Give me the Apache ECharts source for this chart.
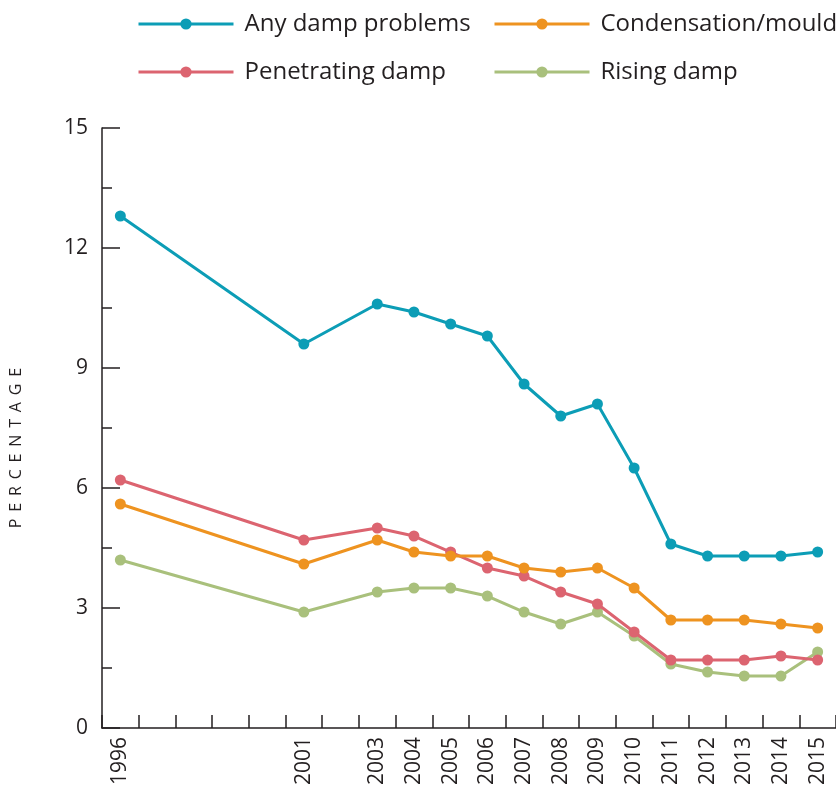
<!DOCTYPE html>
<html>
<head>
<meta charset="utf-8">
<script src="https://cdn.jsdelivr.net/npm/echarts@6/dist/echarts.min.js"></script>
<style>html,body{margin:0;padding:0;background:#fff}#c{width:836px;height:789px}</style>
</head>
<body>
<div id="c"></div>
<script>
const years = [1996, 2001, 2003, 2004, 2005, 2006, 2007, 2008, 2009, 2010, 2011, 2012, 2013, 2014, 2015];
const anyDamp = [12.8, 9.6, 10.6, 10.4, 10.1, 9.8, 8.6, 7.8, 8.1, 6.5, 4.6, 4.3, 4.3, 4.3, 4.4];
const condensation = [5.6, 4.1, 4.7, 4.4, 4.3, 4.3, 4.0, 3.9, 4.0, 3.5, 2.7, 2.7, 2.7, 2.6, 2.5];
const penetrating = [6.2, 4.7, 5.0, 4.8, 4.4, 4.0, 3.8, 3.4, 3.1, 2.4, 1.7, 1.7, 1.7, 1.8, 1.7];
const rising = [4.2, 2.9, 3.4, 3.5, 3.5, 3.3, 2.9, 2.6, 2.9, 2.3, 1.6, 1.4, 1.3, 1.3, 1.9];
const seriesNames = ['Any damp problems', 'Condensation/mould', 'Penetrating damp', 'Rising damp'];
const yTicks = [0, 3, 6, 9, 12, 15];
const yName = 'PERCENTAGE';

const colors = ['#0c9db6', '#ee9320', '#dc6470', '#a9c07c'];
const allData = [anyDamp, condensation, penetrating, rising];
const tickPositions = [];
for (let y = 1995.5; y <= 2015.5; y += 1) tickPositions.push(y);

const font = '"Open Sans", "Noto Sans", sans-serif';
const txt = '#231f20';

const legendCommon = {
  orient: 'vertical', top: 12, padding: 0,
  itemWidth: 95, itemHeight: 14, itemGap: 24,
  lineStyle: { width: 3 },
  textStyle: { fontFamily: font, fontSize: 24, color: txt, padding: [0, 0, 0, 6] }
};

const chart = echarts.init(document.getElementById('c'));
chart.setOption({
  animation: false,
  color: colors,
  textStyle: { fontFamily: font, color: txt },
  grid: { left: 101, top: 128, right: -5.5, bottom: 61, containLabel: false },
  legend: [
    Object.assign({}, legendCommon, { data: [seriesNames[0], seriesNames[2]], left: 137 }),
    Object.assign({}, legendCommon, { data: [seriesNames[1], seriesNames[3]], left: 493 })
  ],
  xAxis: {
    type: 'value', min: 1995.5, max: 2015.5,
    axisLine: { show: true, lineStyle: { color: txt, width: 1.5 } },
    axisTick: { show: true, inside: true, length: 13, customValues: tickPositions, lineStyle: { color: txt, width: 1.5 } },
    axisLabel: { show: true, customValues: years, rotate: 90, margin: 9, fontSize: 21, color: txt, fontFamily: font, formatter: v => String(v) },
    splitLine: { show: false }
  },
  yAxis: {
    type: 'value', min: 0, max: 15, interval: 3,
    name: yName.split('').join(' \u2006'), nameLocation: 'middle', nameRotate: 90, nameGap: 78,
    nameTextStyle: { fontFamily: font, fontSize: 16, color: txt, padding: [0, 40, 0, 0] },
    axisLine: { show: true, lineStyle: { color: txt, width: 1.5 } },
    axisTick: { show: true, inside: true, length: 18, lineStyle: { color: txt, width: 1.5 } },
    minorTick: { show: true, splitNumber: 2, length: 10, lineStyle: { color: txt, width: 1.5 } },
    axisLabel: { show: true, margin: 14, fontSize: 21, color: txt, fontFamily: font, customValues: yTicks },
    splitLine: { show: false }
  },
  series: seriesNames.map((n, i) => ({
    name: n, type: 'line',
    data: years.map((y, j) => [y, allData[i][j]]),
    symbol: 'circle', symbolSize: 11,
    lineStyle: { width: 3, color: colors[i] },
    itemStyle: { color: colors[i] },
    z: 10 - i
  }))
});
</script>
</body>
</html>
